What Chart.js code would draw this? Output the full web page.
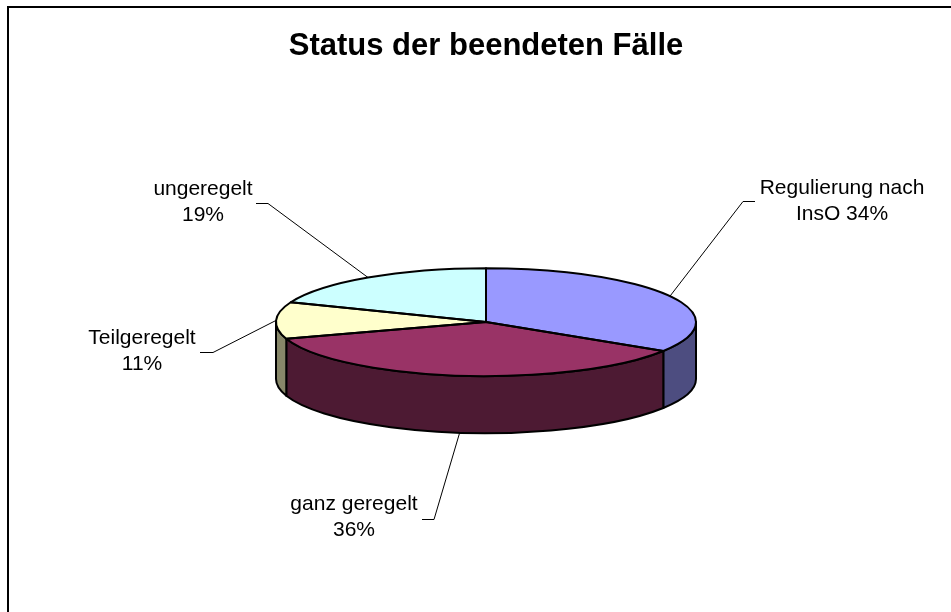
<!DOCTYPE html>
<html>
<head>
<meta charset="utf-8">
<script src="https://cdn.jsdelivr.net/npm/chart.js@4.4.0/dist/chart.umd.min.js"></script>
<style>
html, body { margin: 0; padding: 0; background: #fff; }
canvas { display: block; }
</style>
</head>
<body>
<canvas id="grafico" width="951" height="612"></canvas>
<script>
// Daten
var kategorien = ['Regulierung nach InsO', 'ganz geregelt', 'Teilgeregelt', 'ungeregelt'];
var anteile = [34, 36, 11, 19];
var farben = ['#9999FF', '#993366', '#FFFFCC', '#CCFFFF'];
var seitenFarben = ['#4D4D80', '#4D1A33', '#878769', '#668080'];

// 3D-Look: Abflachung und Tiefe der Torte
var FLACH = 0.257;
var TIEFE = 57;

// Lage der Beschriftungen (Textmitte, Umbruchbreite, Knick der Fuehrungslinie)
var etiketten = [
    { x: 842, y: 188, breite: 175, linie: [755, 201, 743] },
    { x: 354, y: 504, breite: 140, linie: [422, 519, 434] },
    { x: 142, y: 338, breite: 130, linie: [200, 352, 213] },
    { x: 203, y: 189, breite: 130, linie: [256, 203, 268] }
];

var rahmen = {
    id: 'rahmen',
    beforeDraw: function (chart) {
        var ctx = chart.ctx;
        ctx.save();
        ctx.strokeStyle = '#000';
        ctx.lineWidth = 2;
        ctx.strokeRect(8, 7, 2000, 2000);
        ctx.restore();
    }
};

var torte3d = {
    id: 'torte3d',
    beforeDatasetsDraw: function (chart) {
        var ctx = chart.ctx;
        var bogen = chart.getDatasetMeta(0).data;
        var cx = bogen[0].x, cy = bogen[0].y, R = bogen[0].outerRadius, ry = R * FLACH;
        // Seitenwaende (nur vordere Haelfte sichtbar)
        ctx.save();
        ctx.lineWidth = 2;
        ctx.strokeStyle = '#000';
        ctx.lineJoin = 'round';
        bogen.forEach(function (b, i) {
            var s = Math.max(b.startAngle, 0);
            var e = Math.min(b.endAngle, Math.PI);
            if (e <= s) return;
            ctx.beginPath();
            ctx.ellipse(cx, cy, R, ry, 0, s, e, false);
            ctx.lineTo(cx + R * Math.cos(e), cy + ry * Math.sin(e) + TIEFE);
            ctx.ellipse(cx, cy + TIEFE, R, ry, 0, e, s, true);
            ctx.closePath();
            ctx.fillStyle = seitenFarben[i];
            ctx.fill();
            ctx.stroke();
        });
        ctx.restore();
        // Oberseite flach gedrueckt zeichnen lassen
        ctx.save();
        ctx.translate(0, cy);
        ctx.scale(1, FLACH);
        ctx.translate(0, -cy);
    },
    afterDatasetsDraw: function (chart) {
        var ctx = chart.ctx;
        ctx.restore();
        var bogen = chart.getDatasetMeta(0).data;
        var cx = bogen[0].x, cy = bogen[0].y, R = bogen[0].outerRadius, ry = R * FLACH;
        ctx.save();
        ctx.lineWidth = 2;
        ctx.strokeStyle = '#000';
        ctx.lineJoin = 'round';
        bogen.forEach(function (b) {
            ctx.beginPath();
            ctx.moveTo(cx, cy);
            ctx.ellipse(cx, cy, R, ry, 0, b.startAngle, b.endAngle, false);
            ctx.closePath();
            ctx.stroke();
        });

        // Beschriftungen mit Fuehrungslinien
        var summe = anteile.reduce(function (a, v) { return a + v; }, 0);
        ctx.font = '21px "Liberation Sans", Arial, sans-serif';
        ctx.fillStyle = '#000';
        ctx.textAlign = 'center';
        ctx.textBaseline = 'middle';
        bogen.forEach(function (b, i) {
            var et = etiketten[i];
            var mitte = (b.startAngle + b.endAngle) / 2;
            var px = cx + R * Math.cos(mitte);
            var py = cy + ry * Math.sin(mitte) + (Math.sin(mitte) > 0.3 ? TIEFE : 0);
            ctx.beginPath();
            ctx.lineWidth = 1;
            ctx.moveTo(et.linie[0], et.linie[1] + 0.5);
            ctx.lineTo(et.linie[2], et.linie[1] + 0.5);
            ctx.lineTo(px, py);
            ctx.stroke();

            var woerter = (kategorien[i] + ' ' + Math.round(anteile[i] / summe * 100) + '%').split(' ');
            var zeilen = [], zeile = '';
            woerter.forEach(function (w) {
                var probe = zeile ? zeile + ' ' + w : w;
                if (zeile && ctx.measureText(probe).width > et.breite) {
                    zeilen.push(zeile);
                    zeile = w;
                } else {
                    zeile = probe;
                }
            });
            zeilen.push(zeile);
            zeilen.forEach(function (z, k) {
                ctx.fillText(z, et.x, et.y + k * 26);
            });
        });
        ctx.restore();
    }
};

new Chart(document.getElementById('grafico').getContext('2d'), {
    type: 'pie',
    data: {
        labels: kategorien,
        datasets: [{
            data: anteile,
            backgroundColor: farben,
            borderWidth: 0
        }]
    },
    options: {
        responsive: false,
        animation: false,
        devicePixelRatio: 1,
        events: [],
        radius: 210,
        layout: { padding: { left: 21, right: 0, top: 0, bottom: 53 } },
        plugins: {
            legend: { display: false },
            tooltip: { enabled: false },
            title: {
                display: true,
                text: 'Status der beendeten Fälle',
                color: '#000',
                font: { family: '"Liberation Sans", Arial, sans-serif', size: 31, weight: 'bold' },
                padding: { top: 28, bottom: 20 }
            }
        }
    },
    plugins: [rahmen, torte3d]
});
</script>
</body>
</html>
